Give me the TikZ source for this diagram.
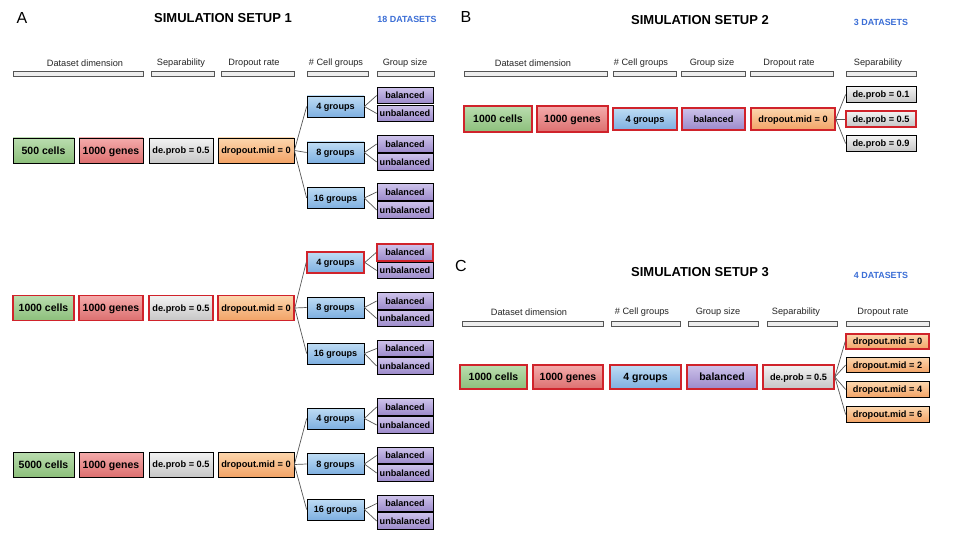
\documentclass[tikz,border=0pt]{standalone}
\usepackage{fontspec}
\setmainfont{Liberation Sans}
\usetikzlibrary{shadings}
\definecolor{gT}{HTML}{BADDAF}
\definecolor{gB}{HTML}{8CBF7B}
\definecolor{rT}{HTML}{F4ABAB}
\definecolor{rB}{HTML}{DC6F6F}
\definecolor{yT}{HTML}{F2F2F2}
\definecolor{yB}{HTML}{C6C6C6}
\definecolor{oT}{HTML}{FCD6AD}
\definecolor{oB}{HTML}{F2A366}
\definecolor{bT}{HTML}{BEDCF4}
\definecolor{bB}{HTML}{7EAFE0}
\definecolor{pT}{HTML}{CDC2EA}
\definecolor{pB}{HTML}{9B89CA}
\definecolor{hlred}{HTML}{D0232B}
\definecolor{dsblue}{HTML}{3B6ED6}
\definecolor{barfill}{HTML}{EEEEEE}
\definecolor{barline}{HTML}{555555}
\definecolor{connc}{HTML}{555555}
\begin{document}
\begin{tikzpicture}[x=1pt,y=-1pt,
  box/.style={draw=black, line width=0.7pt, inner sep=0pt, text=black},
  sz/.style 2 args={minimum width=#1pt, minimum height=#2pt},
  fbig/.style={font=\bfseries\fontsize{10.5}{12}\selectfont, text height=7.5pt, text depth=0pt},
  fmid/.style={font=\bfseries\fontsize{9.2}{11}\selectfont, text height=6.6pt, text depth=0pt},
  fsm/.style={font=\bfseries\fontsize{9.1}{10}\selectfont, text height=6.5pt, text depth=0pt},
  hl/.style={draw=hlred, line width=1.6pt},
  cgreen/.style={top color=gT, bottom color=gB},
  cred/.style={top color=rT, bottom color=rB},
  cgray/.style={top color=yT, bottom color=yB},
  corange/.style={top color=oT, bottom color=oB},
  cblue/.style={top color=bT, bottom color=bB},
  cpurple/.style={top color=pT, bottom color=pB},
  hbar/.style={draw=barline, fill=barfill, line width=0.6pt, minimum height=5pt, inner sep=0pt},
  hlab/.style={font=\fontsize{9.2}{11}\selectfont, text=black!85, inner sep=0pt},
  ttl/.style={font=\bfseries\fontsize{13}{15}\selectfont, inner sep=0pt},
  nds/.style={font=\bfseries\fontsize{8.9}{10}\selectfont, text=dsblue, inner sep=0pt},
  plet/.style={font=\fontsize{16}{18}\selectfont, inner sep=0pt},
  conn/.style={draw=connc, line width=0.7pt}
]
\fill[white] (0,0) rectangle (960,540);
\useasboundingbox (0,0) rectangle (960,540);

% ================= Panel A =================
\node[plet] (letA) at (22,18) {A};
\node[ttl] (ttlA) at (223,18) {SIMULATION SETUP 1};
\node[nds] (dsA) at (407,19) {18 DATASETS};

\node[hlab] (lA1) at (85,63) {Dataset dimension};
\node[hlab] (lA2) at (181,63) {Separability};
\node[hlab] (lA3) at (254,63) {Dropout rate};
\node[hlab] (lA4) at (336,63) {\# Cell groups};
\node[hlab] (lA5) at (405,63) {Group size};
\node[hbar, minimum width=130pt] (hA1) at (78,73.5) {};
\node[hbar, minimum width=63pt] (hA2) at (182.5,73.5) {};
\node[hbar, minimum width=73pt] (hA3) at (257.5,73.5) {};
\node[hbar, minimum width=61pt] (hA4) at (337.5,73.5) {};
\node[hbar, minimum width=57pt] (hA5) at (405.5,73.5) {};

% Row 1
\node[box,cgreen,fbig,sz={61}{25}] (cA1) at (43.5,150.5) {500 cells};
\node[box,cred,fbig,sz={64}{25}] (nA1) at (111,150.5) {1000 genes};
\node[box,cgray,fmid,sz={64}{25}] (pA1) at (181,150.5) {de.prob = 0.5};
\node[box,corange,fmid,sz={76}{25}] (dA1) at (256,150.5) {dropout.mid = 0};
\node[box,cblue,fsm,sz={57}{21}] (gA1a) at (335.5,106.5) {4 groups};
\node[box,cblue,fsm,sz={57}{21}] (gA1b) at (335.5,152.5) {8 groups};
\node[box,cblue,fsm,sz={57}{21}] (gA1c) at (335.5,198) {16 groups};
\node[box,cpurple,fsm,sz={56}{16.5}] (bA1a) at (405,95.5) {balanced};
\node[box,cpurple,fsm,sz={56}{16.5}] (uA1a) at (405,113.5) {unbalanced};
\node[box,cpurple,fsm,sz={56}{16.5}] (bA1b) at (405,144) {balanced};
\node[box,cpurple,fsm,sz={56}{16.5}] (uA1b) at (405,162) {unbalanced};
\node[box,cpurple,fsm,sz={56}{16.5}] (bA1c) at (405,192) {balanced};
\node[box,cpurple,fsm,sz={56}{16.5}] (uA1c) at (405,210) {unbalanced};

% Row 2
\node[box,cgreen,fbig,hl,sz={61}{25}] (cA2) at (43.5,308) {1000 cells};
\node[box,cred,fbig,hl,sz={64}{25}] (nA2) at (111,308) {1000 genes};
\node[box,cgray,fmid,hl,sz={64}{25}] (pA2) at (181,308) {de.prob = 0.5};
\node[box,corange,fmid,hl,sz={76}{25}] (dA2) at (256,308) {dropout.mid = 0};
\node[box,cblue,fsm,hl,sz={57}{21}] (gA2a) at (335.5,262.5) {4 groups};
\node[box,cblue,fsm,sz={57}{21}] (gA2b) at (335.5,307.5) {8 groups};
\node[box,cblue,fsm,sz={57}{21}] (gA2c) at (335.5,353.5) {16 groups};
\node[box,cpurple,fsm,hl,sz={56}{16.5}] (bA2a) at (405,252.5) {balanced};
\node[box,cpurple,fsm,sz={56}{16.5}] (uA2a) at (405,270.5) {unbalanced};
\node[box,cpurple,fsm,sz={56}{16.5}] (bA2b) at (405,301) {balanced};
\node[box,cpurple,fsm,sz={56}{16.5}] (uA2b) at (405,318.5) {unbalanced};
\node[box,cpurple,fsm,sz={56}{16.5}] (bA2c) at (405,348.5) {balanced};
\node[box,cpurple,fsm,sz={56}{16.5}] (uA2c) at (405,366) {unbalanced};

% Row 3
\node[box,cgreen,fbig,sz={61}{25}] (cA3) at (43.5,464.5) {5000 cells};
\node[box,cred,fbig,sz={64}{25}] (nA3) at (111,464.5) {1000 genes};
\node[box,cgray,fmid,sz={64}{25}] (pA3) at (181,464.5) {de.prob = 0.5};
\node[box,corange,fmid,sz={76}{25}] (dA3) at (256,464.5) {dropout.mid = 0};
\node[box,cblue,fsm,sz={57}{21}] (gA3a) at (335.5,418.5) {4 groups};
\node[box,cblue,fsm,sz={57}{21}] (gA3b) at (335.5,464) {8 groups};
\node[box,cblue,fsm,sz={57}{21}] (gA3c) at (335.5,509.5) {16 groups};
\node[box,cpurple,fsm,sz={56}{16.5}] (bA3a) at (405,407) {balanced};
\node[box,cpurple,fsm,sz={56}{16.5}] (uA3a) at (405,425) {unbalanced};
\node[box,cpurple,fsm,sz={56}{16.5}] (bA3b) at (405,455.5) {balanced};
\node[box,cpurple,fsm,sz={56}{16.5}] (uA3b) at (405,473) {unbalanced};
\node[box,cpurple,fsm,sz={56}{16.5}] (bA3c) at (405,503.5) {balanced};
\node[box,cpurple,fsm,sz={56}{16.5}] (uA3c) at (405,521) {unbalanced};

\foreach \r in {1,2,3}{
  \foreach \k in {a,b,c}{
    \draw[conn] (dA\r.east) -- (gA\r\k.west);
    \draw[conn] (gA\r\k.east) -- (bA\r\k.west);
    \draw[conn] (gA\r\k.east) -- (uA\r\k.west);
  }
}

% ================= Panel B =================
\node[plet] (letB) at (466,17) {B};
\node[ttl] (ttlB) at (700,20) {SIMULATION SETUP 2};
\node[nds] (dsB) at (881,22) {3 DATASETS};

\node[hlab] (lB1) at (533,63) {Dataset dimension};
\node[hlab] (lB2) at (641,63) {\# Cell groups};
\node[hlab] (lB3) at (712,63) {Group size};
\node[hlab] (lB4) at (789,63) {Dropout rate};
\node[hlab] (lB5) at (878,63) {Separability};
\node[hbar, minimum width=143pt] (hB1) at (535.5,74) {};
\node[hbar, minimum width=63pt] (hB2) at (644.5,74) {};
\node[hbar, minimum width=64pt] (hB3) at (713,74) {};
\node[hbar, minimum width=83pt] (hB4) at (791.5,74) {};
\node[hbar, minimum width=70pt] (hB5) at (881,74) {};

\node[box,cgreen,fbig,hl,sz={68}{26}] (cB) at (498,119) {1000 cells};
\node[box,cred,fbig,hl,sz={71}{26}] (nB) at (572.5,119) {1000 genes};
\node[box,cblue,fmid,hl,sz={64}{22}] (gB) at (645,119) {4 groups};
\node[box,cpurple,fmid,hl,sz={63}{22}] (bB) at (713.5,119) {balanced};
\node[box,corange,fmid,hl,sz={84}{22}] (dB) at (793,119) {dropout.mid = 0};
\node[box,cgray,fmid,sz={70}{15.5}] (pB1) at (881,94.5) {de.prob = 0.1};
\node[box,cgray,fmid,hl,sz={70}{15.5}] (pB2) at (881,119) {de.prob = 0.5};
\node[box,cgray,fmid,sz={70}{15.5}] (pB3) at (881,143.5) {de.prob = 0.9};
\foreach \k in {1,2,3}{
  \draw[conn] (dB.east) -- (pB\k.west);
}

% ================= Panel C =================
\node[plet] (letC) at (461,266) {C};
\node[ttl] (ttlC) at (700,272) {SIMULATION SETUP 3};
\node[nds] (dsC) at (881,275) {4 DATASETS};

\node[hlab] (lC1) at (529,312) {Dataset dimension};
\node[hlab] (lC2) at (642,312) {\# Cell groups};
\node[hlab] (lC3) at (718,312) {Group size};
\node[hlab] (lC4) at (796,312) {Separability};
\node[hlab] (lC5) at (883,312) {Dropout rate};
\node[hbar, minimum width=141pt] (hC1) at (532.5,323.5) {};
\node[hbar, minimum width=69pt] (hC2) at (645.5,323.5) {};
\node[hbar, minimum width=70pt] (hC3) at (723,323.5) {};
\node[hbar, minimum width=70pt] (hC4) at (802,323.5) {};
\node[hbar, minimum width=83pt] (hC5) at (887.5,323.5) {};

\node[box,cgreen,fbig,hl,sz={67}{24}] (cC) at (493.5,377) {1000 cells};
\node[box,cred,fbig,hl,sz={70}{24}] (nC) at (568,377) {1000 genes};
\node[box,cblue,fbig,hl,sz={71}{24}] (gC) at (645.5,377) {4 groups};
\node[box,cpurple,fbig,hl,sz={70}{24}] (bC) at (722,377) {balanced};
\node[box,cgray,fmid,hl,sz={71}{24}] (pC) at (798.5,377) {de.prob = 0.5};
\node[box,corange,fmid,hl,sz={83}{15.5}] (dC1) at (887.5,341.5) {dropout.mid = 0};
\node[box,corange,fmid,sz={83}{15.5}] (dC2) at (887.5,365) {dropout.mid = 2};
\node[box,corange,fmid,sz={83}{15.5}] (dC3) at (887.5,389.5) {dropout.mid = 4};
\node[box,corange,fmid,sz={83}{15.5}] (dC4) at (887.5,414.5) {dropout.mid = 6};
\foreach \k in {1,2,3,4}{
  \draw[conn] (pC.east) -- (dC\k.west);
}
\end{tikzpicture}
\end{document}
